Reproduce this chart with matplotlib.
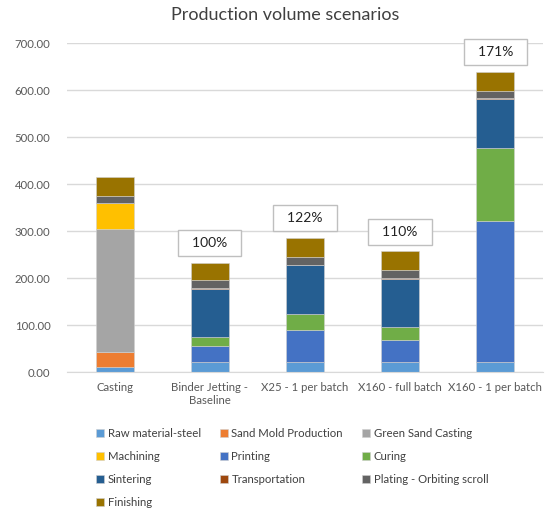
import numpy as np
import matplotlib.pyplot as plt

plt.rcParams['font.family'] = ['Lato', 'DejaVu Sans']

# Data
categories = ["Casting", "Binder Jetting -\nBaseline", "X25 - 1 per batch",
              "X160 - full batch", "X160 - 1 per batch"]
stages = ["Raw material-steel", "Sand Mold Production", "Green Sand Casting",
          "Machining", "Printing", "Curing", "Sintering", "Transportation",
          "Plating - Orbiting scroll", "Finishing"]
raw_material = [10, 21, 21, 21, 21]
sand_mold = [32, 0, 0, 0, 0]
green_sand = [262, 0, 0, 0, 0]
machining = [55, 0, 0, 0, 0]
printing = [0, 34, 68, 48, 300]
curing = [0, 19, 35, 26, 157]
sintering = [0, 102, 103, 104, 103]
transportation = [0, 3, 2, 2, 2]
plating = [16, 16, 16, 16, 16]
finishing = [41, 38, 41, 40, 40]
pct_labels = [None, "100%", "122%", "110%", "171%"]

series = [raw_material, sand_mold, green_sand, machining, printing, curing,
          sintering, transportation, plating, finishing]
colors = ["#5B9BD5", "#ED7D31", "#A5A5A5", "#FFC000", "#4472C4", "#70AD47",
          "#255E91", "#9E480E", "#636363", "#997300"]

fig = plt.figure(figsize=(5.55, 5.09), dpi=100)
ax = fig.add_axes([0.121, 0.269, 0.857, 0.646])

x = np.arange(len(categories))
bottom = np.zeros(len(categories))
handles = []
for name, vals, c in zip(stages, series, colors):
    vals = np.array(vals, dtype=float)
    h = ax.bar(x, vals, 0.4, bottom=bottom, color=c, label=name,
               edgecolor="#D0D0D0", linewidth=0.4)
    handles.append(h)
    bottom += vals

for xi, total, lab in zip(x, bottom, pct_labels):
    if lab:
        ax.text(xi, total + 42, "  " + lab + "  ", ha="center", va="center",
                fontsize=10, color="#222222",
                bbox=dict(boxstyle="square,pad=0.5", fc="white",
                          ec="#BFBFBF", lw=1))

ax.set_xlim(-0.5, len(categories) - 0.5)
ax.set_ylim(0, 700)
ax.set_yticks(np.arange(0, 701, 100))
ax.set_yticklabels([f"{v:.2f}" for v in np.arange(0, 701, 100)])
ax.set_xticks(x)
ax.set_xticklabels(categories)
ax.tick_params(axis="both", length=0, labelsize=8.2, colors="#595959")
ax.tick_params(axis="y", pad=12)
ax.tick_params(axis="x", pad=7)
ax.grid(axis="y", color="#D9D9D9", linewidth=1)
ax.set_axisbelow(True)
for s in ["top", "right", "left"]:
    ax.spines[s].set_visible(False)
ax.spines["bottom"].set_color("#D9D9D9")

fig.text(0.514, 0.97, "Production volume scenarios", fontsize=13,
         color="#404040", ha="center", va="center")

# legend filled row by row like the original
order = [0, 3, 6, 9, 1, 4, 7, 2, 5, 8]
fig.legend([handles[i] for i in order], [stages[i] for i in order],
           loc="upper left", bbox_to_anchor=(0.165, 0.168), ncol=3,
           frameon=False, fontsize=8.2, labelcolor="#404040",
           handlelength=0.7, handleheight=0.7, handletextpad=0.3,
           columnspacing=1.7, labelspacing=1.05, borderaxespad=0)

fig.savefig("out.png", dpi=100)
